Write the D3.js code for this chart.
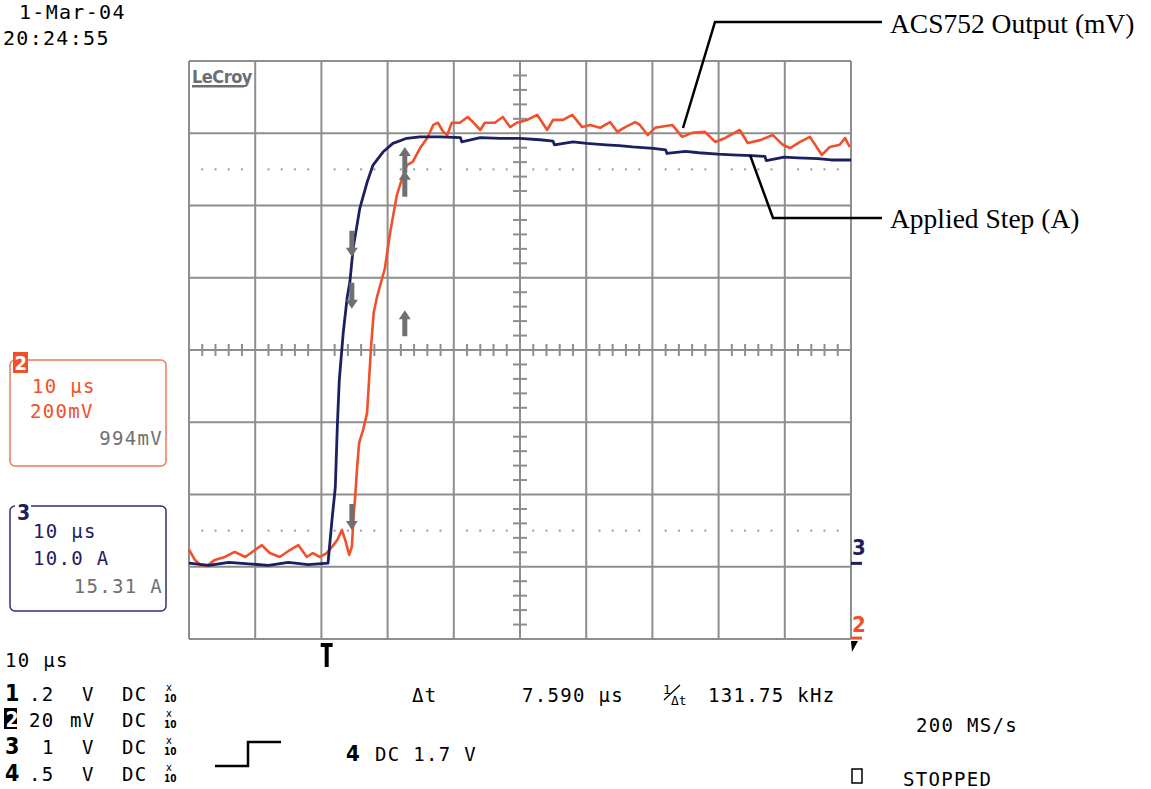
<!DOCTYPE html>
<html>
<head>
<meta charset="utf-8">
<script src="https://d3js.org/d3.v7.min.js"></script>
<style>
body {margin: 0; background: #fff;}
.scope {font-family: "DejaVu Sans Mono", monospace; font-size: 19px; letter-spacing: 1.3px;}
.bold {font-family: "DejaVu Sans Condensed", sans-serif; font-weight: bold;}
</style>
</head>
<body>
<script>
// time in µs (10 µs/div), channel 3 in A (10 A/div), channel 2 in mV (200 mV/div)
const stepTime = [0, 3, 6, 9, 12, 15, 18, 21.0, 21.6, 22.1, 22.4, 22.7, 23.3, 23.9, 24.3, 24.8, 25.8, 26.9, 27.8, 29.3, 30.8, 32.9, 34.9,
  38, 41, 41.2, 44, 47, 50, 53, 55, 55.2, 58, 60.1, 63, 65, 67, 70.1, 72, 72.2, 75, 77, 79.9, 82, 85, 87, 87.2, 89.9, 92, 95, 97, 100]
const stepAmps = [0.1, -0.2, 0.2, 0, -0.2, 0.2, -0.1, 0.1, 6.1, 10.6, 18.9, 25.4, 32.0, 36.9, 39.0, 43.7, 49.2, 52.8, 55.2, 57.0, 58.2, 58.9, 59.1,
  59.1, 59.0, 58.4, 59.0, 58.9, 58.9, 58.7, 58.5, 58.0, 58.4, 58.2, 58.0, 57.9, 57.7, 57.5, 57.3, 56.8, 57.1, 56.9, 56.7, 56.6, 56.5, 56.4, 55.8, 56.3, 56.2, 56.1, 55.9, 55.9]

const outTime = [0, 0.9, 1.7, 2.7, 3.9, 5.4, 6.9, 8.5, 10.0, 11.0, 12.2, 13.7, 15.3, 16.5, 17.8, 18.7, 19.8, 20.8, 21.6, 22.4, 23.1, 23.6, 24.2, 24.6,
  24.9, 25.1, 25.4, 25.7, 26.3, 26.9, 27.2, 27.5, 27.9, 28.4, 28.9, 29.6, 30.4, 31.4, 32.2, 32.9, 33.8, 34.9, 36.0, 36.9, 37.6, 38.4, 39.0, 39.7,
  40.9, 42.1, 42.9, 44.0, 44.7, 46.2, 47.4, 48.5, 49.5, 51.1, 52.6, 54.1, 55.0, 56.5, 57.9, 59.4, 60.6, 62.1, 63.6, 64.7, 65.9, 67.4, 68.1, 69.3,
  70.4, 73.0, 74.5, 76.0, 77.9, 79.5, 81.0, 83.2, 84.4, 86.3, 88.2, 89.7, 90.8, 92.3, 93.8, 95.6, 96.8, 98.3, 99.1, 99.8]
const outMv = [243, 215, 201, 198, 215, 223, 237, 223, 243, 256, 234, 223, 243, 256, 223, 234, 223, 234, 251, 270, 298, 270, 229, 251,
  345, 389, 472, 539, 575, 622, 713, 805, 899, 943, 976, 1023, 1123, 1225, 1272, 1308, 1317, 1355, 1383, 1419, 1425, 1400, 1391, 1425,
  1425, 1441, 1427, 1405, 1425, 1425, 1441, 1413, 1425, 1433, 1447, 1405, 1433, 1433, 1447, 1413, 1419, 1411, 1427, 1400, 1413, 1427, 1419, 1391,
  1411, 1419, 1386, 1397, 1400, 1372, 1383, 1405, 1369, 1377, 1391, 1364, 1355, 1372, 1386, 1336, 1358, 1364, 1383, 1358]

// cursor markers (time, screen divisions, direction)
const cursorTime = [24.6, 24.6, 24.6, 32.6, 32.6, 32.6]
const cursorDiv = [1.47, 0.75, -2.31, 2.63, 2.30, 0.37]
const cursorDir = ['down', 'down', 'down', 'up', 'up', 'up']

const ch2Offset = -3.98, ch2PerDiv = 200
const ch3Offset = -2.96, ch3PerDiv = 10

const orange = '#f0502a', navy = '#1d2060', grid = '#8e8e8e', grey = '#707070'

const width = 1151, height = 789
const gLeft = 189, gRight = 851, gTop = 61, gBottom = 639

const svg = d3.select('body').append('svg')
  .attr('width', width).attr('height', height)
svg.append('rect').attr('width', width).attr('height', height).attr('fill', '#fff')

const x = d3.scaleLinear().domain([0, 100]).range([gLeft, gRight])
const y = d3.scaleLinear().domain([-4, 4]).range([gBottom, gTop])
const y2 = v => y(v / ch2PerDiv + ch2Offset)
const y3 = v => y(v / ch3PerDiv + ch3Offset)

// graticule
const g = svg.append('g')
g.selectAll('.vl').data(d3.range(0, 101, 10)).enter().append('line')
  .attr('x1', d => x(d)).attr('x2', d => x(d)).attr('y1', gTop).attr('y2', gBottom)
  .attr('stroke', grid).attr('stroke-width', 2)
g.selectAll('.hl').data(d3.range(-4, 5, 1)).enter().append('line')
  .attr('x1', gLeft).attr('x2', gRight).attr('y1', d => y(d)).attr('y2', d => y(d))
  .attr('stroke', grid).attr('stroke-width', 2)
// centre ticks
g.selectAll('.ht').data(d3.range(2, 100, 2).filter(d => d % 10 !== 0)).enter().append('line')
  .attr('x1', d => x(d)).attr('x2', d => x(d)).attr('y1', y(0) - 6).attr('y2', y(0) + 6)
  .attr('stroke', grid).attr('stroke-width', 2)
g.selectAll('.vt').data(d3.range(-19, 20, 1).filter(d => d % 5 !== 0).map(d => d / 5)).enter().append('line')
  .attr('x1', x(50) - 7).attr('x2', x(50) + 7).attr('y1', d => y(d)).attr('y2', d => y(d))
  .attr('stroke', grid).attr('stroke-width', 2)
// dotted rows
const dotX = d3.range(2, 100, 2).filter(d => d % 10 !== 0)
;[2.5, -2.5].forEach(r => {
  g.selectAll(null).data(dotX).enter().append('rect')
    .attr('x', d => x(d) - 1).attr('y', y(r) - 1).attr('width', 2).attr('height', 2)
    .attr('fill', '#9a9a9a')
})

// LeCroy logo
svg.append('text').attr('class', 'bold').attr('x', 192).attr('y', 83)
  .attr('font-size', 18).attr('fill', '#6d6e73').attr('letter-spacing', -0.5).text('LeCroy')
svg.append('rect').attr('x', 192).attr('y', 85).attr('width', 52).attr('height', 2.5).attr('fill', '#6d6e73')

// traces
const outPts = outTime.map((t, i) => [x(t), y2(outMv[i])])
const stepPts = stepTime.map((t, i) => [x(t), y3(stepAmps[i])])
const line = d3.line()
svg.append('path').attr('d', line(outPts)).attr('fill', 'none')
  .attr('stroke', orange).attr('stroke-width', 2.6).attr('stroke-linejoin', 'round')
svg.append('path').attr('d', line(stepPts)).attr('fill', 'none')
  .attr('stroke', navy).attr('stroke-width', 2.8).attr('stroke-linejoin', 'round')

// cursor arrows
cursorTime.forEach((t, i) => {
  const cx = x(t), cy = y(cursorDiv[i])
  const s = cursorDir[i] === 'down' ? 1 : -1
  const p = d3.path()
  p.moveTo(cx - 2.5, cy - 13 * s); p.lineTo(cx + 2.5, cy - 13 * s); p.lineTo(cx + 2.5, cy + 4 * s)
  p.lineTo(cx + 6, cy + 4 * s); p.lineTo(cx, cy + 13 * s); p.lineTo(cx - 6, cy + 4 * s)
  p.lineTo(cx - 2.5, cy + 4 * s); p.closePath()
  svg.append('path').attr('d', p.toString()).attr('fill', grey)
})

// trigger marker
const tx0 = x(20.8)
const tp = d3.path()
tp.moveTo(tx0 - 6, 643); tp.lineTo(tx0 + 6, 643); tp.lineTo(tx0 + 6, 647); tp.lineTo(tx0 + 2, 647)
tp.lineTo(tx0 + 2, 667); tp.lineTo(tx0 - 2, 667); tp.lineTo(tx0 - 2, 647); tp.lineTo(tx0 - 6, 647); tp.closePath()
svg.append('path').attr('d', tp.toString()).attr('fill', '#000')

// ground markers on the right
svg.append('text').attr('class', 'bold').attr('x', 852).attr('y', 555).attr('font-size', 22).attr('fill', navy).text('3')
svg.append('rect').attr('x', 851).attr('y', y(ch3Offset) - 2).attr('width', 11).attr('height', 3).attr('fill', navy)
svg.append('text').attr('class', 'bold').attr('x', 852).attr('y', 632).attr('font-size', 22).attr('fill', orange).text('2')
svg.append('rect').attr('x', 851).attr('y', y(ch2Offset) - 1).attr('width', 11).attr('height', 3).attr('fill', orange)
svg.append('path').attr('d', 'M851,641 L858,641 L852,652 Z').attr('fill', '#000')

// annotations
svg.append('polyline').attr('points', '683,128 715,22 882,22').attr('fill', 'none').attr('stroke', '#000').attr('stroke-width', 2.5)
svg.append('polyline').attr('points', '750,155 773,218 882,218').attr('fill', 'none').attr('stroke', '#000').attr('stroke-width', 2.5)
svg.append('text').attr('x', 890).attr('y', 33).attr('font-family', 'Liberation Serif, serif').attr('font-size', 27.5).text('ACS752 Output (mV)')
svg.append('text').attr('x', 890).attr('y', 228).attr('font-family', 'Liberation Serif, serif').attr('font-size', 27.5).text('Applied Step (A)')

// helper for scope text
const txt = (tx, ty, s, col, anchor) => svg.append('text').attr('class', 'scope')
  .attr('x', tx).attr('y', ty).attr('fill', col || '#000').attr('text-anchor', anchor || 'start').text(s)

// date
txt(19, 19, '1-Mar-04').style('font-size', '20px')
txt(3, 45, '20:24:55').style('font-size', '20px')

// channel 2 box
svg.append('rect').attr('x', 10).attr('y', 360).attr('width', 156).attr('height', 106).attr('rx', 5)
  .attr('fill', 'none').attr('stroke', '#f07a58').attr('stroke-width', 1.5)
svg.append('rect').attr('x', 13).attr('y', 352).attr('width', 15).attr('height', 21).attr('fill', orange)
svg.append('text').attr('class', 'bold').attr('x', 14.5).attr('y', 370).attr('font-size', 20).attr('fill', '#fff').text('2')
txt(32, 393, '10 µs', orange)
txt(30, 418, '200mV', orange)
txt(163, 445, '994mV', grey, 'end')

// channel 3 box
svg.append('rect').attr('x', 10).attr('y', 506).attr('width', 156).attr('height', 105).attr('rx', 5)
  .attr('fill', 'none').attr('stroke', '#2d3070').attr('stroke-width', 1.5)
svg.append('rect').attr('x', 15).attr('y', 500).attr('width', 16).attr('height', 12).attr('fill', '#fff')
svg.append('text').attr('class', 'bold').attr('x', 17).attr('y', 520).attr('font-size', 21).attr('fill', navy).text('3')
txt(33, 538, '10 µs', navy)
txt(33, 565, '10.0 A', navy)
txt(163, 593, '15.31 A', grey, 'end')

// bottom status
txt(5, 667, '10 µs')
const rowY = [701, 727, 754, 781]
const rowId = ['1', '2', '3', '4']
const rowVal = ['.2', '20', '1', '.5']
const rowUnit = ['V', 'mV', 'V', 'V']
rowY.forEach((ry, i) => {
  if (i === 1) {
    svg.append('rect').attr('x', 4).attr('y', ry - 19).attr('width', 13).attr('height', 21).attr('fill', '#000')
    svg.append('text').attr('class', 'bold').attr('x', 5.5).attr('y', ry).attr('font-size', 21).attr('fill', '#fff').text(rowId[i])
  } else {
    svg.append('text').attr('class', 'bold').attr('x', 5).attr('y', ry).attr('font-size', 23).text(rowId[i])
  }
  txt(i === 2 ? 42 : 29, ry, rowVal[i])
  txt(i === 1 ? 70 : 82, ry, rowUnit[i])
  txt(122, ry, 'DC')
  svg.append('text').attr('x', 166).attr('y', ry - 10).attr('font-size', 10).attr('font-family', 'DejaVu Sans').text('x')
  svg.append('text').attr('x', 164).attr('y', ry + 1).attr('font-size', 10).attr('font-weight', 'bold').attr('font-family', 'DejaVu Sans Condensed').text('10')
})
svg.append('polyline').attr('points', '215,766 248,766 248,742 281,742').attr('fill', 'none').attr('stroke', '#000').attr('stroke-width', 2.5)
svg.append('text').attr('class', 'bold').attr('x', 346).attr('y', 761).attr('font-size', 22).text('4')
txt(375, 761, 'DC 1.7 V')

txt(412, 702, 'Δt')
txt(522, 702, '7.590 µs')
svg.append('text').attr('x', 663).attr('y', 694).attr('font-size', 13).attr('font-family', 'DejaVu Sans Mono').text('1')
svg.append('line').attr('x1', 664).attr('y1', 700).attr('x2', 680).attr('y2', 685).attr('stroke', '#000').attr('stroke-width', 1.2)
svg.append('text').attr('x', 671).attr('y', 705).attr('font-size', 13).attr('font-family', 'DejaVu Sans Mono').text('Δt')
txt(708, 702, '131.75 kHz')
txt(916, 732, '200 MS/s')
svg.append('rect').attr('x', 852).attr('y', 769).attr('width', 10).attr('height', 14).attr('fill', 'none').attr('stroke', '#000').attr('stroke-width', 1.5)
txt(903, 786, 'STOPPED')
</script>
</body>
</html>
